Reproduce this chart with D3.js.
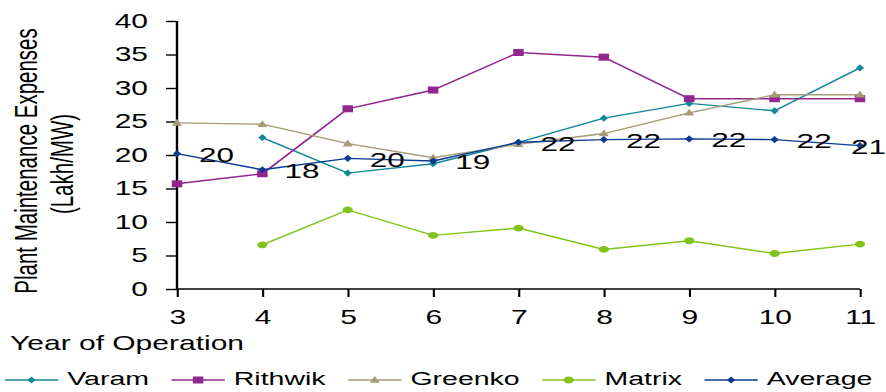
<!DOCTYPE html>
<html>
<head>
<meta charset="utf-8">
<script src="https://cdn.jsdelivr.net/npm/d3@7"></script>
<style>
  html, body { margin: 0; padding: 0; background: #fff; }
  svg { display: block; }
  text { font-family: "Liberation Sans", Arial, sans-serif; fill: #000; }
</style>
</head>
<body>
<div id="chart"></div>
<script>
// ---- data ----
const years = [3, 4, 5, 6, 7, 8, 9, 10, 11];
const varam   = [null, 22.6, 17.3, 18.7, 21.9, 25.5, 27.7, 26.6, 33.0];
const rithwik = [15.7, 17.2, 26.9, 29.7, 35.3, 34.6, 28.4, 28.4, 28.4];
const greenko = [24.8, 24.6, 21.7, 19.6, 21.6, 23.2, 26.3, 29.0, 29.0];
const matrix  = [null, 6.6, 11.8, 8.0, 9.1, 5.9, 7.2, 5.3, 6.7];
const average = [20.2, 17.8, 19.5, 19.1, 21.9, 22.3, 22.4, 22.3, 21.4];
const yTicks = [0, 5, 10, 15, 20, 25, 30, 35, 40];
const seriesNames = ["Varam", "Rithwik", "Greenko", "Matrix", "Average"];
const seriesColors = ["#14889a", "#92278f", "#a59d76", "#7fc31c", "#0b3a93"];
const seriesMarkers = ["diamond", "square", "triangle", "circle", "diamond"];
const seriesValues = [varam, rithwik, greenko, matrix, average];

// ---- layout (inner coords are stretched horizontally to the window) ----
const W = 886, H = 392, SX = 1.5;
const IW = W / SX;
const svg = d3.select("#chart").append("svg")
  .attr("width", W).attr("height", H)
  .attr("viewBox", `0 0 ${IW} ${H}`)
  .attr("preserveAspectRatio", "none");

const x = d3.scaleLinear().domain([3, 11]).range([118, 573.3]);
const y = d3.scaleLinear().domain([0, 40]).range([289, 21]);

// axes
const yAxis = svg.append("g").attr("transform", `translate(${x(3)},0)`)
  .call(d3.axisLeft(y).tickValues(yTicks).tickSize(7.3).tickPadding(12).tickSizeOuter(0));
const xAxis = svg.append("g").attr("transform", `translate(0,${y(0)})`)
  .call(d3.axisBottom(x).tickValues(years).tickFormat(d3.format("d")).tickSize(8).tickPadding(13).tickSizeOuter(0));
[yAxis, xAxis].forEach(g => {
  g.select(".domain").attr("stroke", "#000").attr("stroke-width", 1.6);
  g.selectAll(".tick line").attr("stroke", "#000").attr("stroke-width", 1.4);
  g.selectAll(".tick text").style("font-size", "20px").attr("fill", "#000");
});
yAxis.select(".domain").attr("d", `M0,${y(0)}V${y(40)}`);
xAxis.select(".domain").attr("d", `M${x(3)},0H${x(11)}`);

// axis titles
svg.append("text").attr("x", 6.7).attr("y", 350)
  .style("font-size", "20px").text("Year of Operation");
const yt = svg.append("g").attr("transform", `translate(0,161) rotate(-90)`);
yt.append("text").attr("x", 0).attr("y", 24.7).attr("text-anchor", "middle")
  .style("font-size", "20.5px").text("Plant Maintenance Expenses");
yt.append("text").attr("x", -3).attr("y", 48.7).attr("text-anchor", "middle")
  .style("font-size", "20.5px").text("(Lakh/MW)");

// marker drawing
function marker(g, type, color) {
  if (type === "diamond") {
    g.append("path").attr("d", "M0,-3.6L2.7,0L0,3.6L-2.7,0Z").attr("fill", color);
  } else if (type === "square") {
    g.append("rect").attr("x", -3.5).attr("y", -3.5).attr("width", 7).attr("height", 7).attr("fill", color);
  } else if (type === "triangle") {
    g.append("path").attr("d", "M0,-4L3.4,2.8L-3.4,2.8Z").attr("fill", color);
  } else {
    g.append("circle").attr("r", 3.4).attr("fill", color);
  }
}

// series
seriesValues.forEach((vals, i) => {
  const pts = years.map((yr, j) => ({ yr, v: vals[j] })).filter(d => d.v != null);
  const line = d3.line().x(d => x(d.yr)).y(d => y(d.v));
  svg.append("path").datum(pts).attr("d", line)
    .attr("fill", "none").attr("stroke", seriesColors[i]).attr("stroke-width", 1.4);
  pts.forEach(d => {
    const g = svg.append("g").attr("transform", `translate(${x(d.yr)},${y(d.v)})`);
    marker(g, seriesMarkers[i], seriesColors[i]);
  });
});

// data labels for Average
const fmt = d3.format(".0f");
years.forEach((yr, j) => {
  const t = svg.append("text")
    .attr("y", y(average[j]) + 1)
    .attr("dy", "0.35em")
    .style("font-size", "21px")
    .text(fmt(average[j]));
  const w = t.node().getComputedTextLength();
  t.attr("x", Math.min(x(yr) + 14.7, IW - w));
});

// legend
let lx = 3.3;
const ly = 378;
seriesNames.forEach((name, i) => {
  svg.append("line").attr("x1", lx).attr("x2", lx + 35.5).attr("y1", ly + 2).attr("y2", ly + 2)
    .attr("stroke", seriesColors[i]).attr("stroke-width", 1.4);
  const g = svg.append("g").attr("transform", `translate(${lx + 17.7},${ly + 2})`);
  marker(g, seriesMarkers[i], seriesColors[i]);
  const t = svg.append("text").attr("x", lx + 41.5).attr("y", ly).attr("dy", "0.35em")
    .style("font-size", "19px").text(name);
  lx = lx + 41.5 + t.node().getComputedTextLength() + 15;
});
</script>
</body>
</html>
